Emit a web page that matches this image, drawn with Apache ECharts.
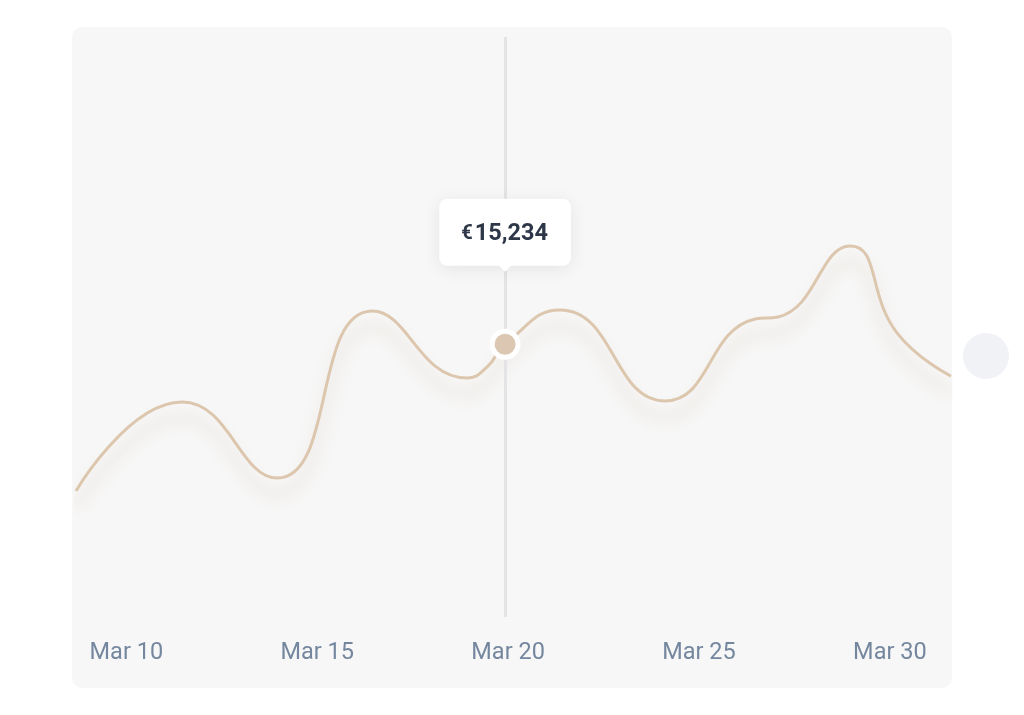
<!DOCTYPE html>
<html><head><meta charset="utf-8">
<script src="https://cdn.jsdelivr.net/npm/echarts@6/dist/echarts.min.js"></script>
<style>html,body{margin:0;padding:0;background:#ffffff;}#chart{width:1024px;height:715px;}</style>
</head><body><div id="chart"></div>
<script>
// Day of March (fractional) and revenue value (€)
const days = [8.76, 11.54, 14.03, 16.52, 19.0, 19.53, 20.0, 21.44, 24.19, 26.55, 27.15, 29.04, 30.27, 31.68];
const values = [7040, 12010, 7760, 17090, 13350, 13970, 15234, 17150, 12070, 16650, 16760, 20720, 15860, 13460];
const tickDays = [10, 15, 20, 25, 30];
const tickLabels = ['Mar 10', 'Mar 15', 'Mar 20', 'Mar 25', 'Mar 30'];
const focusDay = 20;
const focusValue = 15234;

const chart = echarts.init(document.getElementById('chart'), null, {renderer: 'canvas'});
const lineColor = '#dcc7ae';
const textColor = '#2d3748';

chart.setOption({
  animation: false,
  backgroundColor: '#ffffff',
  textStyle: {fontFamily: 'Roboto'},
  graphic: [
    {type: 'rect', z: -10, shape: {x: 72, y: 27, width: 880, height: 661, r: 10}, style: {fill: '#f7f7f7'}, silent: true},
    {type: 'circle', z: -10, shape: {cx: 986, cy: 356, r: 23}, style: {fill: '#f0f2f5'}, silent: true}
  ],
  grid: {left: 76, right: 73, top: 37, bottom: 98},
  xAxis: {
    type: 'value',
    min: days[0],
    max: days[days.length - 1],
    axisLine: {show: false},
    axisTick: {show: false},
    splitLine: {show: false},
    axisLabel: {
      customValues: tickDays,
      formatter: function (v) { const i = tickDays.indexOf(v); return i >= 0 ? tickLabels[i] : ''; },
      color: '#74879f',
      fontSize: 23.5,
      fontFamily: 'Roboto',
      margin: 24,
      padding: [0, 0, 0, 6]
    }
  },
  yAxis: {type: 'value', min: 0, max: 32400, show: false},
  series: [
    {
      type: 'line',
      data: days.map((d, i) => [d, values[i]]),
      smooth: 0.5,
      showSymbol: false,
      clip: true,
      z: 3,
      lineStyle: {color: lineColor, width: 3, shadowColor: 'rgba(190,165,130,0.42)', shadowBlur: 16, shadowOffsetY: 16},
      markLine: {
        silent: true,
        symbol: 'none',
        label: {show: false},
        lineStyle: {color: '#e4e4e6', width: 3, type: 'solid'},
        data: [{xAxis: focusDay}]
      }
    },
    {
      type: 'scatter',
      z: 6,
      data: [[focusDay, focusValue]],
      symbol: 'circle',
      symbolSize: 26,
      itemStyle: {color: '#dcc8b2', borderColor: '#ffffff', borderWidth: 5, opacity: 1},
      label: {
        show: true,
        position: 'top',
        distance: 63,
        formatter: function () { return '{e|€}{n|' + focusValue.toLocaleString('en-US') + '}'; },
        backgroundColor: '#ffffff',
        borderRadius: 8,
        padding: [22, 23, 19, 22],
        shadowBlur: 18,
        shadowColor: 'rgba(0,0,0,0.08)',
        shadowOffsetY: 3,
        rich: {
          e: {fontSize: 20, fontWeight: 'bold', color: textColor, fontFamily: 'Roboto', lineHeight: 26, padding: [0, 2, 0, 0]},
          n: {fontSize: 23.5, fontWeight: 'bold', color: textColor, fontFamily: 'Roboto', lineHeight: 26}
        }
      },
      markPoint: {
        silent: true,
        z: 7,
        symbol: 'triangle',
        symbolRotate: 180,
        symbolSize: [14, 7],
        symbolOffset: [0, -76],
        itemStyle: {color: '#ffffff'},
        label: {show: false},
        data: [{coord: [focusDay, focusValue]}]
      }
    }
  ]
});
</script>
</body></html>
